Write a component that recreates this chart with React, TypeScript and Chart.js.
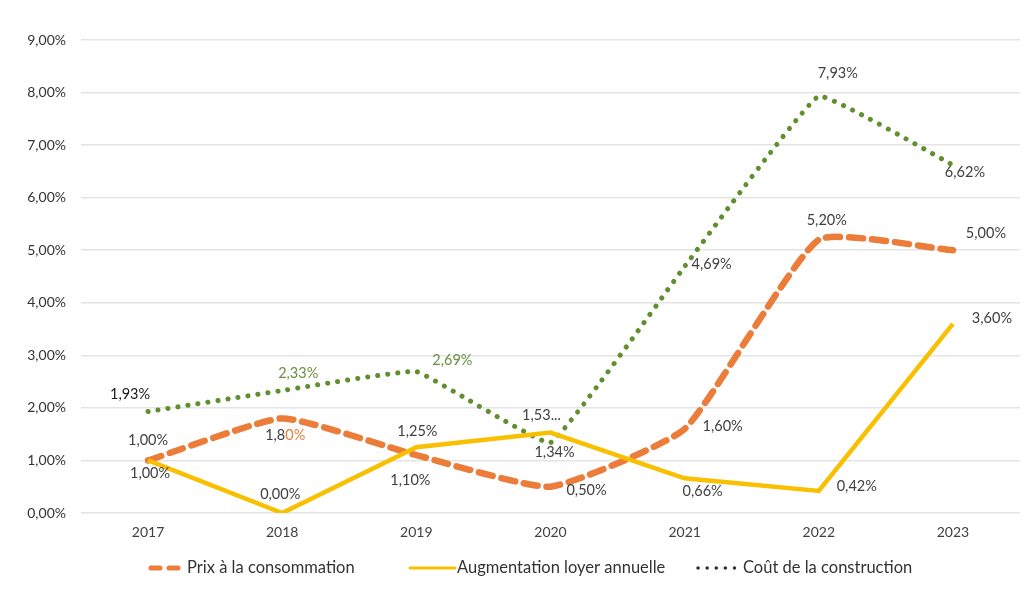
import React, { useEffect, useRef } from "react";
import { Chart, registerables } from "chart.js";

Chart.register(...registerables);

const years = ["2017", "2018", "2019", "2020", "2021", "2022", "2023"];
const prixConso = [1.0, 1.8, 1.1, 0.5, 1.6, 5.2, 5.0];
const loyer = [1.0, 0.0, 1.25, 1.53, 0.66, 0.42, 3.6];
const construction = [1.93, 2.33, 2.69, 1.34, 4.69, 7.93, 6.62];
const yTicks = [0, 1, 2, 3, 4, 5, 6, 7, 8, 9];
const seriesNames = ["Prix à la consommation", "Augmentation loyer annuelle", "Coût de la construction"];

const ORANGE = "#EC7C3A";
const YELLOW = "#F8C000";
const GREEN = "#5F8F2E";
const LABEL = "#404040";
const FONT = "Lato, 'Open Sans', sans-serif";

const fmt = (v: number) => v.toFixed(2).replace(".", ",") + "%";

// label placement (offset from point) per series
const prixOffsets = [[0, -20], [3, 17], [-6, 25], [36, 4], [38, -3], [8, -19], [33, -17]];
const loyerOffsets = [[2, 13], [-2, -19], [1, -16], [-9, -17], [18, 13], [38, -5], [39, -5]];
const constrOffsets = [[-18, -17], [16, -17], [36, -11], [4, 10], [27, -2], [19, -23], [12, 7]];
const constrColors = ["#1a1a1a", "#6A8F3E", "#6A8F3E", LABEL, LABEL, LABEL, LABEL];

const labelsPlugin = {
  id: "customLabels",
  afterDatasetsDraw(chart: any) {
    const ctx = chart.ctx;
    const offs = [prixOffsets, loyerOffsets, constrOffsets];
    ctx.save();
    ctx.font = `14.5px ${FONT}`;
    ctx.textAlign = "center";
    ctx.textBaseline = "middle";
    chart.data.datasets.forEach((ds: any, di: number) => {
      const meta = chart.getDatasetMeta(di);
      meta.data.forEach((pt: any, i: number) => {
        const [dx, dy] = offs[di][i];
        let txt = fmt(ds.data[i]);
        if (di === 1 && i === 3) txt = "1,53...";
        ctx.fillStyle = di === 2 ? constrColors[i] : LABEL;
        if (di === 0 && i === 1) {
          const full = ctx.measureText(txt).width;
          const part = ctx.measureText("1,8").width;
          const x0 = pt.x + dx - full / 2;
          ctx.textAlign = "left";
          ctx.fillStyle = LABEL;
          ctx.fillText("1,8", x0, pt.y + dy);
          ctx.fillStyle = ORANGE;
          ctx.fillText("0%", x0 + part, pt.y + dy);
          ctx.textAlign = "center";
          return;
        }
        ctx.fillText(txt, pt.x + dx, pt.y + dy);
      });
    });
    ctx.restore();
  },
};

const legendPlugin = {
  id: "customLegend",
  afterDraw(chart: any) {
    const ctx = chart.ctx;
    const y = 568;
    ctx.save();
    ctx.font = `16.5px ${FONT}`;
    ctx.textBaseline = "middle";
    ctx.textAlign = "left";
    ctx.strokeStyle = ORANGE;
    ctx.lineWidth = 5;
    ctx.lineCap = "round";
    ctx.setLineDash([9, 9]);
    ctx.beginPath();
    ctx.moveTo(151, y);
    ctx.lineTo(184, y);
    ctx.stroke();
    ctx.fillStyle = "#333";
    ctx.fillText(seriesNames[0], 187, y);
    ctx.setLineDash([]);
    ctx.strokeStyle = YELLOW;
    ctx.lineWidth = 3;
    ctx.beginPath();
    ctx.moveTo(410, y);
    ctx.lineTo(455, y);
    ctx.stroke();
    ctx.fillText(seriesNames[1], 457, y);
    ctx.strokeStyle = "#333";
    ctx.lineWidth = 3.5;
    ctx.setLineDash([0.1, 9]);
    ctx.beginPath();
    ctx.moveTo(698, y);
    ctx.lineTo(738, y);
    ctx.stroke();
    ctx.fillText(seriesNames[2], 743, y);
    ctx.restore();
  },
};

export default function App() {
  const ref = useRef<HTMLCanvasElement | null>(null);
  useEffect(() => {
    if (!ref.current) return;
    const chart = new Chart(ref.current, {
      type: "line",
      data: {
        labels: years,
        datasets: [
          {
            label: seriesNames[0],
            data: prixConso,
            borderColor: ORANGE,
            borderWidth: 6.5,
            borderDash: [14, 9],
            borderCapStyle: "round",
            tension: 0.15,
            pointRadius: 0,
            order: 2,
          },
          {
            label: seriesNames[1],
            data: loyer,
            borderColor: YELLOW,
            borderWidth: 4.5,
            tension: 0,
            pointRadius: 0,
            order: 1,
          },
          {
            label: seriesNames[2],
            data: construction,
            borderColor: GREEN,
            borderWidth: 5,
            borderDash: [0.1, 10],
            borderCapStyle: "round",
            tension: 0.08,
            pointRadius: 0,
            order: 3,
          },
        ],
      },
      options: {
        animation: false,
        responsive: false,
        maintainAspectRatio: false,
        layout: { padding: { top: 40, right: 10, left: 0, bottom: 0 } },
        plugins: { legend: { display: false }, tooltip: { enabled: false } },
        scales: {
          x: {
            offset: true,
            grid: { display: false, drawTicks: false },
            border: { display: false },
            ticks: { padding: 11, color: "#404040", font: { family: FONT, size: 14 } },
            afterFit: (s: any) => {
              s.height = 76;
            },
          },
          y: {
            min: 0,
            max: 9,
            afterBuildTicks: (s: any) => {
              s.ticks = yTicks.map((v) => ({ value: v }));
            },
            grid: { color: "#E4E4E4", lineWidth: 1.5, drawTicks: false },
            border: { display: false },
            ticks: {
              padding: 15,
              color: "#333",
              font: { family: FONT, size: 14 },
              callback: (v: any) => fmt(Number(v)),
            },
            afterFit: (s: any) => {
              s.width = 81;
            },
          },
        },
      },
      plugins: [labelsPlugin, legendPlugin],
    });
    return () => chart.destroy();
  }, []);
  return (
    <div style={{ position: "fixed", left: 0, top: 0, width: 1030, height: 589, background: "#fff" }}>
      <canvas ref={ref} width={1030} height={589} style={{ width: 1030, height: 589 }} />
    </div>
  );
}
